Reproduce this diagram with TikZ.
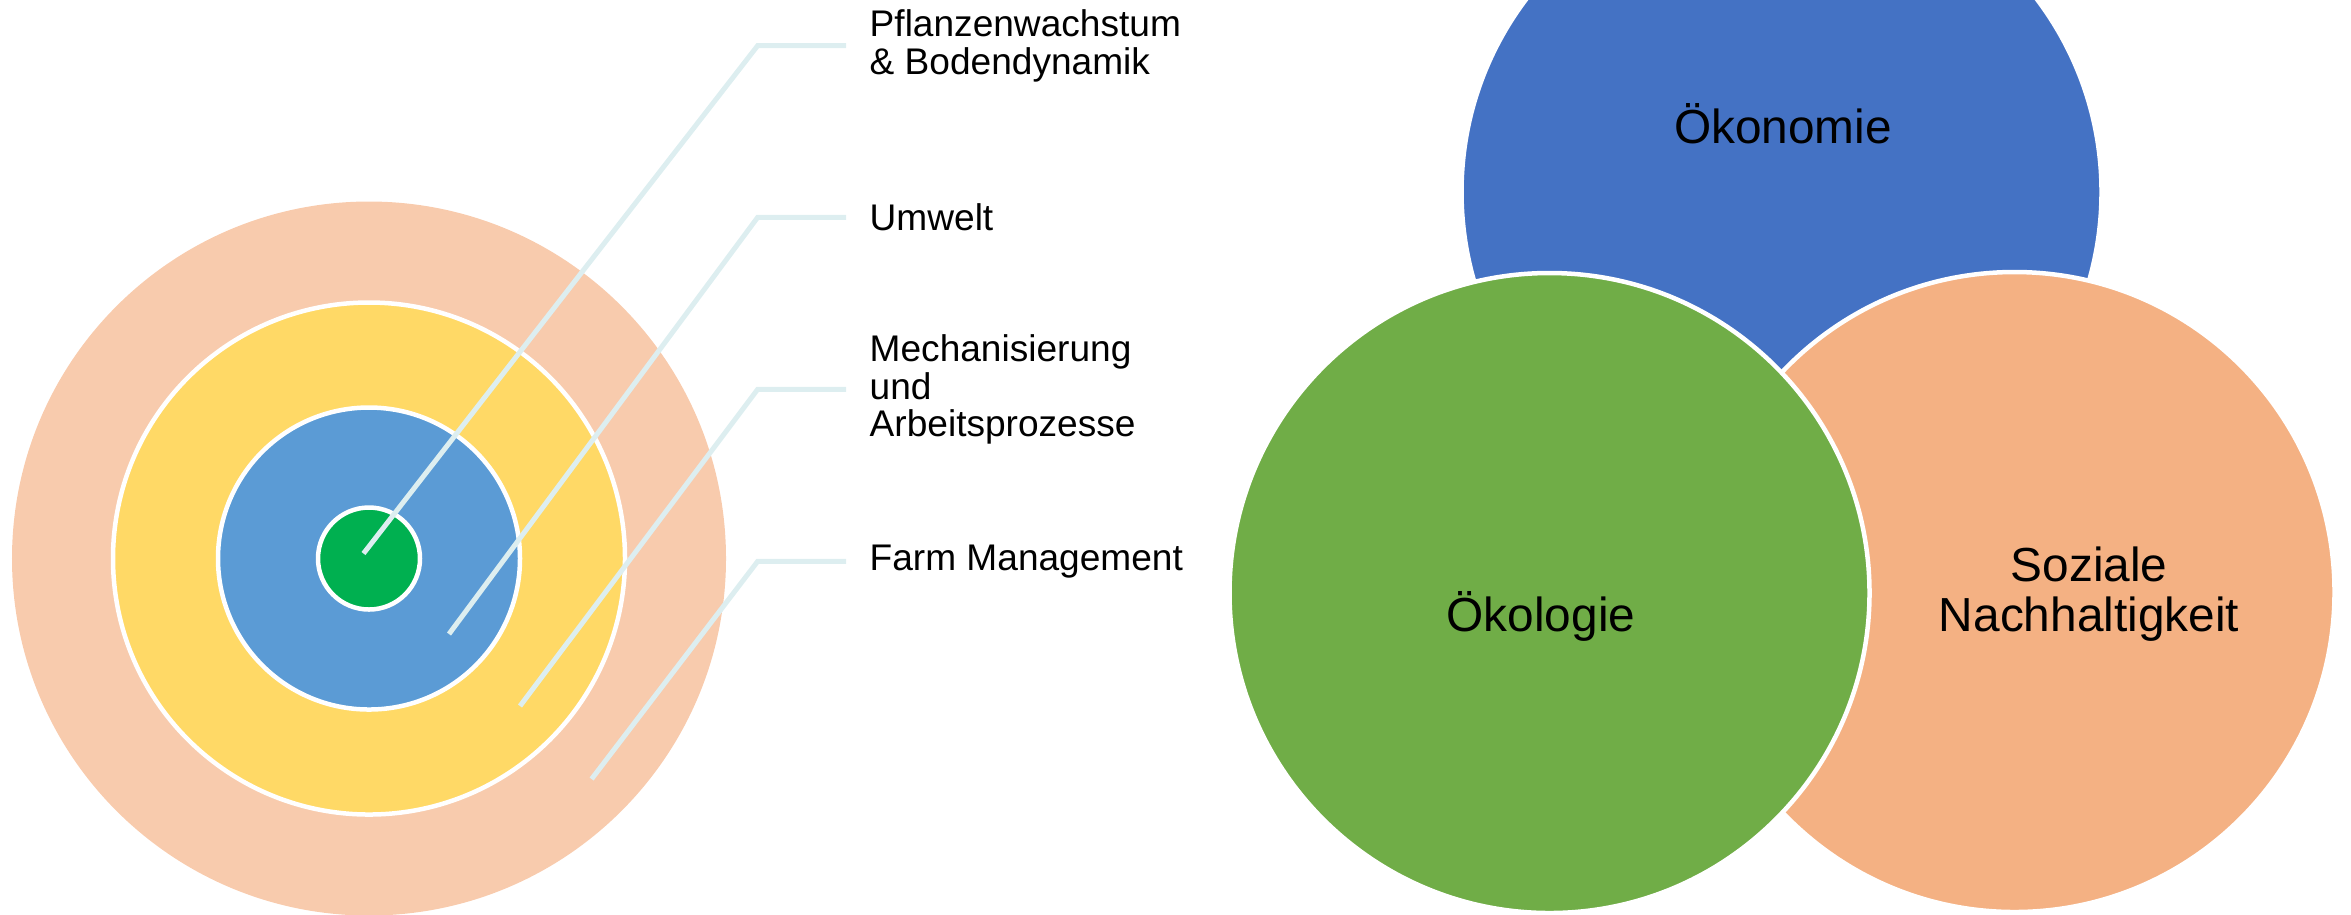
\documentclass[tikz,border=0pt]{standalone}
\usepackage{fontspec}
\setmainfont{Liberation Sans}
\usepackage{tikz}
\definecolor{peach}{HTML}{F8CBAD}
\definecolor{sun}{HTML}{FFD966}
\definecolor{sky}{HTML}{5B9BD5}
\definecolor{leaf}{HTML}{00B050}
\definecolor{leader}{HTML}{DDEEF0}
\definecolor{oekblue}{HTML}{4472C4}
\definecolor{oekgreen}{HTML}{70AD47}
\definecolor{oekorange}{HTML}{F4B183}

\begin{document}
\begin{tikzpicture}[
  ring/.style={draw=white, line width=0.045cm},
  leaderline/.style={draw=leader, line width=0.05cm},
  lab/.style={anchor=west, align=left, inner xsep=0.23cm, inner ysep=0pt, font=\fontsize{10.55pt}{10.73pt}\selectfont},
  vennlab/.style={align=center, inner sep=0pt, font=\fontsize{13.6pt}{14.03pt}\selectfont}
]
\useasboundingbox (0,0) rectangle (23.51,-9.14);
\clip (0,0) rectangle (23.51,-9.14);

\fill[peach] ( 3.69 , -5.585 ) circle ( 3.57 );
\path[ring, fill=sun] ( 3.69 , -5.585 ) circle ( 2.56 );
\path[ring, fill=sky] ( 3.69 , -5.585 ) circle ( 1.51 );
\path[ring, fill=leaf] ( 3.69 , -5.585 ) circle ( 0.51 );

\coordinate (p1) at ( 3.635 , -5.535 );
\coordinate (p2) at ( 4.49 , -6.34 );
\coordinate (p3) at ( 5.20 , -7.06 );
\coordinate (p4) at ( 5.916 , -7.79 );
\coordinate (e1) at ( 7.576 , -0.457 );
\coordinate (e2) at ( 7.576 , -2.174 );
\coordinate (e3) at ( 7.576 , -3.894 );
\coordinate (e4) at ( 7.576 , -5.614 );

\node[lab] (pflanze) at ( 8.46 , -0.457 ) {Pflanzenwachstum\\\& Bodendynamik};
\node[lab] (umwelt) at ( 8.46 , -2.174 ) {Umwelt};
\node[lab] (mechan) at ( 8.46 , -3.894 ) {Mechanisierung\\und\\Arbeitsprozesse};
\node[lab] (farm) at ( 8.46 , -5.614 ) {Farm Management};

\draw[leaderline] (p1) -- (e1) -- (pflanze.west);
\draw[leaderline] (p2) -- (e2) -- (umwelt.west);
\draw[leaderline] (p3) -- (e3) -- (mechan.west);
\draw[leaderline] (p4) -- (e4) -- (farm.west);

\path[ring, fill=oekblue] ( 17.815 , -1.92 ) circle ( 3.20 );
\path[ring, fill=oekorange] ( 20.145 , -5.92 ) circle ( 3.20 );
\path[ring, fill=oekgreen] ( 15.495 , -5.93 ) circle ( 3.20 );

\node[vennlab, anchor=base] (oekonomie) at ( 17.83 , -1.43 ) {Ökonomie};
\node[vennlab, anchor=base] (oekologie) at ( 15.41 , -6.31 ) {Ökologie};
\node[vennlab] (sozial) at ( 20.89 , -5.94 ) {Soziale\\Nachhaltigkeit};
\end{tikzpicture}
\end{document}
